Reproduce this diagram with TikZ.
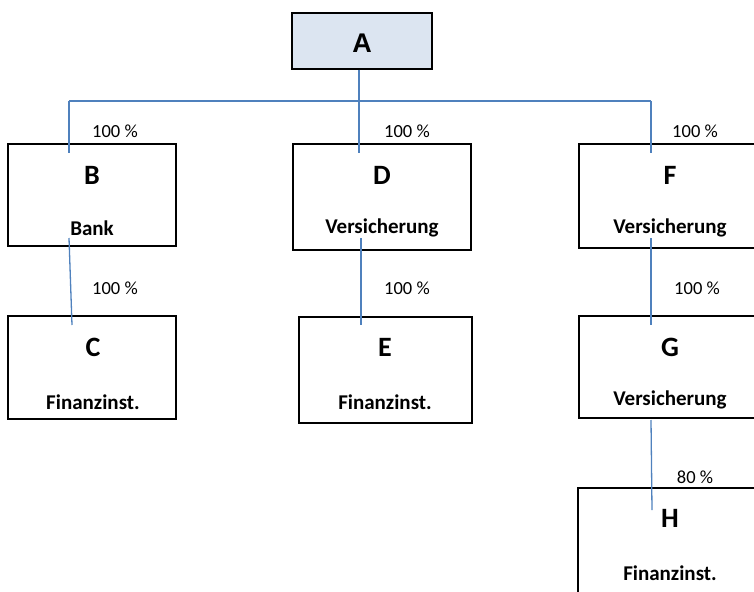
\documentclass[tikz,border=0pt]{standalone}
\usepackage{fontspec}
\setmainfont{Carlito}
\newfontfamily\headfont{Liberation Sans}
\usetikzlibrary{calc}
\definecolor{linkblue}{HTML}{4F81BD}
\definecolor{rootfill}{HTML}{DCE5F1}
\begin{document}
\begin{tikzpicture}[x=1pt,y=-1pt,
  box/.style={draw=black,line width=1.5pt,inner sep=0pt},
  link/.style={draw=linkblue,line width=1.3pt},
  pct/.style={font=\fontsize{18.5}{20}\selectfont,inner sep=0pt},
  letter/.style={font=\fontsize{28}{30}\selectfont\bfseries,inner sep=0pt},
  sub/.style={font=\fontsize{21}{24}\selectfont\bfseries,inner sep=0pt}]
\useasboundingbox (0,0) rectangle (754,591);

% root
\node[box,fill=rootfill,minimum width=140pt,minimum height=56pt] (A) at (362,41) {};
\node[font=\headfont\fontsize{27}{30}\selectfont\bfseries,inner sep=0pt] (Atxt) at (362,43) {A};

% subsidiaries
\node[box,minimum width=168pt,minimum height=102pt] (B) at (92,195) {};
\node[box,minimum width=168pt,minimum height=103pt] (C) at (92,367.5) {};
\node[box,minimum width=178pt,minimum height=106pt] (D) at (382,197) {};
\node[box,minimum width=173pt,minimum height=106pt] (E) at (385.5,370) {};
\node[box,minimum width=182pt,minimum height=104pt] (F) at (670,196) {};
\node[box,minimum width=182pt,minimum height=102pt] (G) at (670,367) {};
\node[box,minimum width=183pt,minimum height=120pt] (H) at (669.5,548) {};

% letters and descriptions
\node[letter] (Bl) at (92,175) {B};
\node[sub]    (Bs) at (92,228) {Bank};
\node[letter] (Cl) at (93,347) {C};
\node[sub]    (Cs) at (93,402) {Finanzinst.};
\node[letter] (Dl) at (382,175) {D};
\node[sub]    (Ds) at (382,228) {Versicherung};
\node[letter] (El) at (385,347) {E};
\node[sub]    (Es) at (385,402) {Finanzinst.};
\node[letter] (Fl) at (670,175) {F};
\node[sub]    (Fs) at (670,228) {Versicherung};
\node[letter] (Gl) at (670,347) {G};
\node[sub]    (Gs) at (670,400) {Versicherung};
\node[letter] (Hl) at (670,518) {H};
\node[sub]    (Hs) at (670,573) {Finanzinst.};

% connectors
\coordinate (busL) at (69,101);
\coordinate (busR) at (651,101);
\coordinate (busM) at (359,101);
\coordinate (Ain) at ($(A.south)+(-3,0)$);
\coordinate (Bin) at (69,153);
\coordinate (Dtop) at (359,153);
\coordinate (Fin) at (651,153);
\draw[link] (busL) -- (busR);
\draw[link] (Ain) -- (busM) -- (Dtop);
\draw[link] (busL) -- (Bin);
\draw[link] (busR) -- (Fin);

\coordinate (Bout) at (69,238);
\coordinate (Cin) at (72,325);
\draw[link] (Bout) -- (Cin);
\coordinate (Dout) at (361,238);
\coordinate (Ein) at (361,325);
\draw[link] (Dout) -- (Ein);
\coordinate (Fout) at (651,238);
\coordinate (Gin) at (651,325);
\draw[link] (Fout) -- (Gin);
\coordinate (Gout) at (651,420);
\coordinate (Hin) at (652,510);
\draw[link] (Gout) -- (Hin);

% shares
\node[pct] (pB) at (115,131) {100 \%};
\node[pct] (pD) at (407,131) {100 \%};
\node[pct] (pF) at (695,131) {100 \%};
\node[pct] (pC) at (115,288) {100 \%};
\node[pct] (pE) at (407,288) {100 \%};
\node[pct] (pG) at (697,288) {100 \%};
\node[pct] (pH) at (695,477) {80 \%};
\end{tikzpicture}
\end{document}
